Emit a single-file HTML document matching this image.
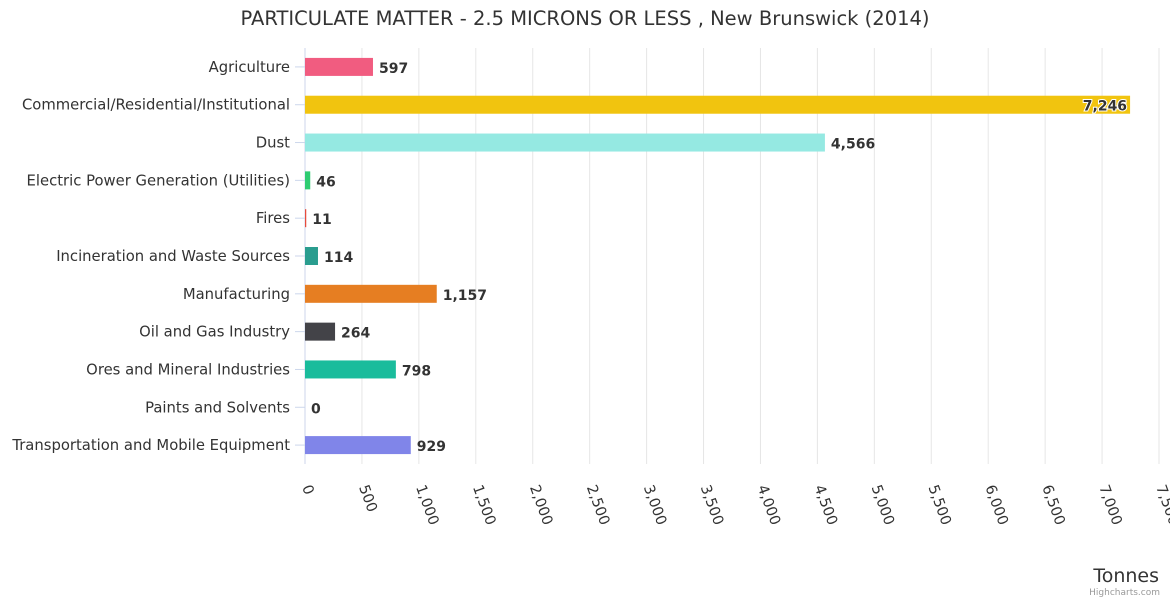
<!DOCTYPE html>
<html><head><meta charset="utf-8"><style>
body{margin:0;background:#fff;}
svg{display:block;font-family:"DejaVu Sans","Liberation Sans",sans-serif;}
</style></head><body>
<svg id="chart" width="1170" height="600" viewBox="0 0 1170 600">
<text x="585" y="25" text-anchor="middle" font-size="19.5" fill="#333">PARTICULATE MATTER - 2.5 MICRONS OR LESS , New Brunswick (2014)</text>
<g id="grid"></g><g id="bars"></g><g id="ylabels"></g><g id="xlabels"></g>
<text x="1159" y="582" text-anchor="end" font-size="19" fill="#333">Tonnes</text>
<text x="1160" y="595" text-anchor="end" font-size="9" fill="#999">Highcharts.com</text>
</svg>
<script>
const categories=["Agriculture","Commercial/Residential/Institutional","Dust","Electric Power Generation (Utilities)","Fires","Incineration and Waste Sources","Manufacturing","Oil and Gas Industry","Ores and Mineral Industries","Paints and Solvents","Transportation and Mobile Equipment"];
const values=[597,7246,4566,46,11,114,1157,264,798,0,929];
const colors=["#f15c80","#f1c40f","#95e9e2","#2ecc71","#e74c3c","#2a9d8f","#e67e22","#434348","#1abc9c","#bdc3c7","#8085e9"];
const ticks=[0,500,1000,1500,2000,2500,3000,3500,4000,4500,5000,5500,6000,6500,7000,7500];
const NS="http://www.w3.org/2000/svg";
const x0=305,x1=1159,plotTop=48,plotBottom=464,maxV=7500;
const xs=v=>x0+(x1-x0)*v/maxV;
const step=(plotBottom-plotTop)/categories.length;
const yc=i=>plotTop+step*(i+0.5);
function mk(t,a,p){const e=document.createElementNS(NS,t);for(const k in a)e.setAttribute(k,a[k]);p.appendChild(e);return e;}
const fmt=v=>v.toLocaleString("en-US");
const G=document.getElementById("grid"),B=document.getElementById("bars"),YL=document.getElementById("ylabels"),XL=document.getElementById("xlabels");
ticks.forEach((t,i)=>{
 const l=mk("line",{x1:xs(t),x2:xs(t),y1:plotTop,y2:plotBottom,stroke:i==0?"#ccd6eb":"#e6e6e6","stroke-width":1},G);
 
 
 const x=xs(t)-3;
 const tx=mk("text",{x:x,y:487,"font-size":14.5,fill:"#333",transform:`rotate(70 ${x} 487)`},XL);
 tx.textContent=fmt(t);
 
 
});
categories.forEach((c,i)=>{
 const y=yc(i);
 const tk=mk("line",{x1:x0-10,x2:x0,y1:y,y2:y,stroke:"#ccd6eb"},G);
 
 
 const lb=mk("text",{x:290,y:y+5,"text-anchor":"end","font-size":14.8,fill:"#333"},YL);
 lb.textContent=c;
 
 
 const w=xs(values[i])-x0;
 const r=mk("rect",{x:x0,y:y-9,width:Math.max(w,0),height:18,fill:colors[i]},B);
 
 
 const inside=xs(values[i])+60>1165;
 const vt=mk("text",{x:inside?xs(values[i])-3:xs(values[i])+6,y:y+6,"text-anchor":inside?"end":"start","font-size":14,"font-weight":"bold",fill:"#333",stroke:inside?"#fff":"none","stroke-width":inside?2:0,"paint-order":"stroke"},B);
 vt.textContent=fmt(values[i]);
 
 
});
</script>
</body></html>
